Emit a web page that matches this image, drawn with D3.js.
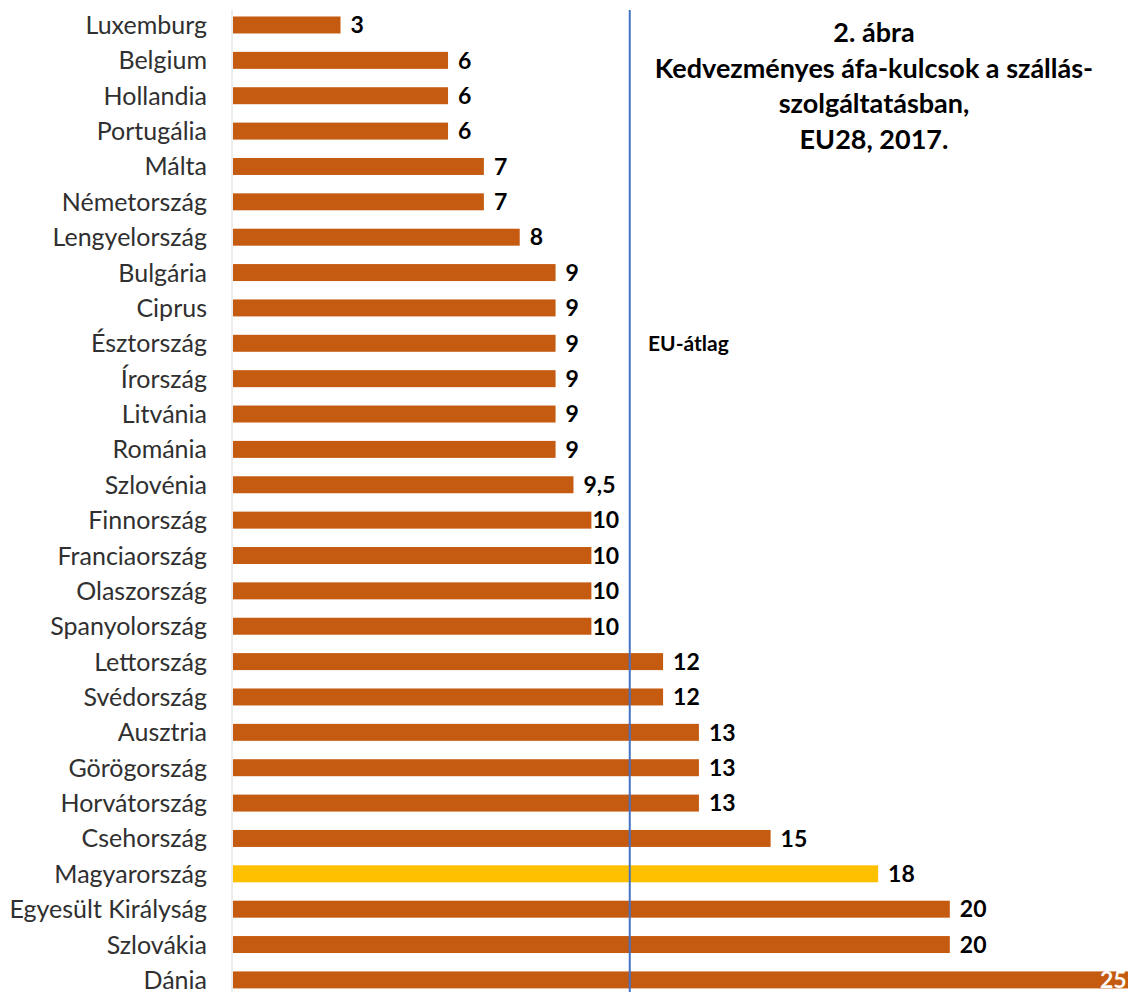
<!DOCTYPE html>
<html><head><meta charset="utf-8">
<script src="https://cdn.jsdelivr.net/npm/d3@7"></script>
<style>body{margin:0;background:#fff}svg{display:block}</style>
</head><body>
<script>
const countries = ["Luxemburg","Belgium","Hollandia","Portugália","Málta","Németország","Lengyelország","Bulgária","Ciprus","Észtország","Írország","Litvánia","Románia","Szlovénia","Finnország","Franciaország","Olaszország","Spanyolország","Lettország","Svédország","Ausztria","Görögország","Horvátország","Csehország","Magyarország","Egyesült Királyság","Szlovákia","Dánia"];
const rates = [3,6,6,6,7,7,8,9,9,9,9,9,9,9.5,10,10,10,10,12,12,13,13,13,15,18,20,20,25];
const valueLabels = ["3","6","6","6","7","7","8","9","9","9","9","9","9","9,5","10","10","10","10","12","12","13","13","13","15","18","20","20","25"];
const euAverage = 11.07;
const highlight = "Magyarország";
const titleLines = ["2. ábra","Kedvezményes áfa-kulcsok a szállás-","szolgáltatásban,","EU28, 2017."];

const W=1128,H=992;
const svg=d3.select("body").append("svg").attr("width",W).attr("height",H);
const font="Lato, 'Open Sans', sans-serif";
const x=d3.scaleLinear().domain([0,25]).range([233,1129]);
const y=d3.scaleBand().domain(countries).range([7.3,997.6]).paddingInner(0.52).paddingOuter(0.26);

svg.append("line").attr("x1",232).attr("x2",232).attr("y1",10).attr("y2",H).attr("stroke","#d9d9d9").attr("stroke-width",1);

svg.append("g").selectAll("rect").data(countries).join("rect")
  .attr("x",x(0)).attr("y",d=>y(d)).attr("height",y.bandwidth())
  .attr("width",(d,i)=>x(rates[i])-x(0))
  .attr("fill",d=>d===highlight?"#FFC000":"#C55A11");

svg.append("g").selectAll("text").data(countries).join("text")
  .attr("x",207).attr("y",d=>y(d)+y.bandwidth()/2).attr("dy","0.36em")
  .attr("text-anchor","end").attr("font-family",font).attr("font-size",25).attr("fill","#303030")
  .text(d=>d);

svg.append("g").selectAll("text").data(countries).join("text")
  .attr("x",(d,i)=>{const e=x(rates[i]); if(rates[i]===25) return e-29; return rates[i]===10? e+1 : e+10;})
  .attr("y",d=>y(d)+y.bandwidth()/2).attr("dy","0.36em")
  .attr("font-family",font).attr("font-size",23).attr("font-weight","bold")
  .attr("fill",(d,i)=>rates[i]===25?"#fff":"#000")
  .text((d,i)=>valueLabels[i]);

svg.append("line").attr("x1",x(euAverage)).attr("x2",x(euAverage)).attr("y1",10).attr("y2",H)
  .attr("stroke","#4472C4").attr("stroke-width",2);

svg.append("text").attr("x",648).attr("y",y("Észtország")+y.bandwidth()/2).attr("dy","0.36em")
  .attr("font-family",font).attr("font-size",21).attr("font-weight","bold").text("EU-átlag");

svg.append("g").selectAll("text").data(titleLines).join("text")
  .attr("x",874).attr("y",(d,i)=>42+i*35.5)
  .attr("text-anchor","middle").attr("font-family",font).attr("font-size",27).attr("font-weight","bold")
  .text(d=>d);
</script>
</body></html>
